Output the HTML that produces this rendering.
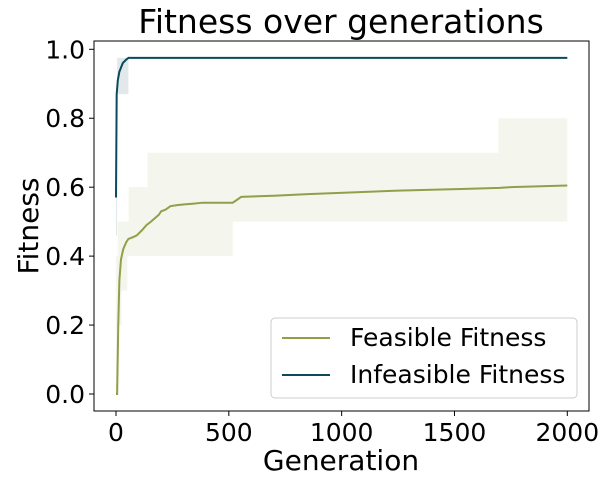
<!DOCTYPE html>
<html><head><meta charset="utf-8"><style>
body{margin:0;background:#fff}
svg text{font-family:"DejaVu Sans","Liberation Sans",sans-serif;fill:#000}
</style></head><body>
<svg id="c" width="608" height="488" xmlns="http://www.w3.org/2000/svg"></svg>
<script>
const feasGen=[0,5,10,15,22,32,45,55,75,92,115,135,155,172,190,200,220,241,270,303,340,384,440,517,540,555,600,700,850,1050,1250,1550,1700,1750,2000];
const feasVal=[0,0,0.2,0.33,0.39,0.42,0.44,0.45,0.455,0.46,0.475,0.49,0.5,0.51,0.52,0.53,0.535,0.545,0.548,0.55,0.552,0.555,0.555,0.555,0.565,0.572,0.573,0.575,0.58,0.585,0.59,0.595,0.598,0.6,0.605];
const feasLoGen=[0,10,25,50,517,2000];
const feasLo=[0,0.2,0.3,0.4,0.5,0.5];
const feasHiGen=[0,8,56,140,1695,2000];
const feasHi=[0.4,0.5,0.6,0.7,0.8,0.8];
const infGen=[0,3,8,15,30,45,55,2000];
const infVal=[0.57,0.87,0.91,0.935,0.96,0.97,0.975,0.975];
const infLoGen=[0,5,55,2000];
const infLo=[0.46,0.87,0.975,0.975];
const infHiGen=[0,5,2000];
const infHi=[0.6,0.975,0.975];
const yTicks=[0,0.2,0.4,0.6,0.8,1.0];
const yTickLabels=["0.0","0.2","0.4","0.6","0.8","1.0"];
const xTicks=[0,500,1000,1500,2000];
const xTickLabels=["0","500","1000","1500","2000"];

const X=g=>116+g*(567.3-116)/2000;
const Y=v=>394-v*(394-49.3);
const s=document.getElementById('c');const NS="http://www.w3.org/2000/svg";
function mk(t,a,p){const e=document.createElementNS(NS,t);for(const k in a)e.setAttribute(k,a[k]);(p||s).appendChild(e);return e;}
function stepPts(gs,vs){let p=[];for(let i=0;i<gs.length;i++){if(i>0)p.push([X(gs[i]),Y(vs[i-1])]);p.push([X(gs[i]),Y(vs[i])]);}return p;}
function band(gh,vh,gl,vl,col,name){const hi=stepPts(gh,vh),lo=stepPts(gl,vl).reverse();
const e=mk('polygon',{points:hi.concat(lo).map(p=>p.join(',')).join(' '),fill:col,stroke:'none'});

}
function line(gs,vs,col,name){const e=mk('polyline',{points:gs.map((g,i)=>X(g)+','+Y(vs[i])).join(' '),fill:'none',stroke:col,'stroke-width':2});

}
band(feasHiGen,feasHi,feasLoGen,feasLo,'rgba(143,160,74,0.1)','feasible-band');
band(infHiGen,infHi,infLoGen,infLo,'rgba(11,74,90,0.12)','infeasible-band');
line(feasGen,feasVal,'#8fa04a','feasible-line');
line(infGen,infVal,'#0b4a5a','infeasible-line');
let fr=mk('rect',{x:94,y:41,width:495,height:370,fill:'none',stroke:'#000','stroke-width':1});


yTicks.forEach((v,i)=>{mk('line',{x1:89,x2:94,y1:Y(v),y2:Y(v),stroke:'#000'});
const t=mk('text',{x:85,y:Y(v)+9,'text-anchor':'end','font-size':25});t.textContent=yTickLabels[i];

});
xTicks.forEach((g,i)=>{mk('line',{x1:X(g),x2:X(g),y1:411,y2:416,stroke:'#000'});
const t=mk('text',{x:X(g),y:441,'text-anchor':'middle','font-size':25});t.textContent=xTickLabels[i];

});
</script>
<svg width="608" height="488" style="position:absolute;left:0;top:0" xmlns="http://www.w3.org/2000/svg">
<text x="341" y="33" text-anchor="middle" font-size="33">Fitness over generations</text>
<text x="341" y="470" text-anchor="middle" font-size="28">Generation</text>
<text x="38" y="226" text-anchor="middle" font-size="28" transform="rotate(-90 38 226)">Fitness</text>
<g>
<rect x="271" y="318" width="306" height="80" rx="4" fill="#fff" fill-opacity="0.8" stroke="#ccc"/>
<line x1="282" x2="330" y1="338" y2="338" stroke="#8fa04a" stroke-width="2"/>
<text x="350" y="346" font-size="25">Feasible Fitness</text>
<line x1="282" x2="330" y1="375" y2="375" stroke="#0b4a5a" stroke-width="2"/>
<text x="350" y="383" font-size="25">Infeasible Fitness</text>
</g>
</svg>
</body></html>
